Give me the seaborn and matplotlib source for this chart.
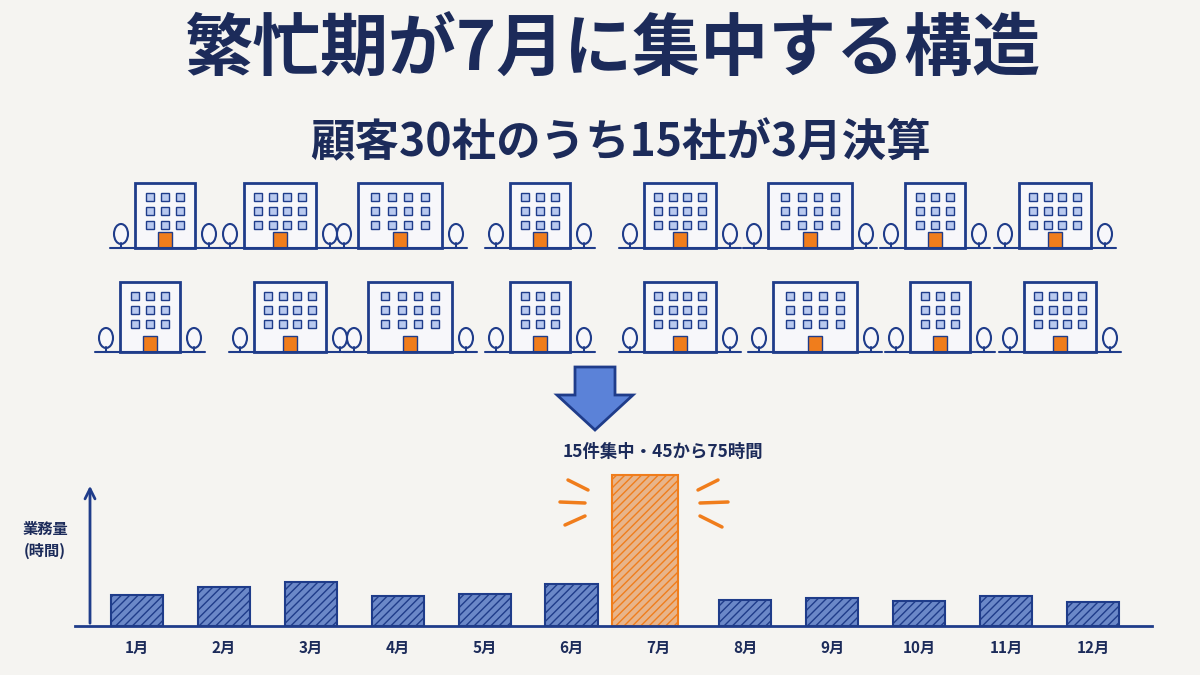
import matplotlib
matplotlib.use("Agg")
import matplotlib.pyplot as plt
import matplotlib.patches as mp
import seaborn as sns
import pandas as pd

months = ["1月","2月","3月","4月","5月","6月","7月","8月","9月","10月","11月","12月"]
hours = [15.5, 19.5, 22, 15, 16, 21, 75, 13, 14, 12.5, 15, 12]
title = "繁忙期が7月に集中する構造"
subtitle = "顧客30社のうち15社が3月決算"
note = "15件集中・45から75時間"
ylabel = "業務量\n(時間)"

sns.set_theme(style="white")
plt.rcParams['font.family'] = ['Noto Sans CJK JP', 'DejaVu Sans']
NAVY = "#1c2b5a"; BLUE = "#5b82d8"; EDGE = "#1f3c8a"; ORANGE = "#f07d1c"; BG = "#f5f4f1"

W, H = 1200, 675
fig = plt.figure(figsize=(12, 6.75), dpi=100, facecolor=BG)

def fx(x): return x / W
def fy(y): return 1 - y / H

fig.text(0.51, fy(50), title, ha="center", va="center", fontsize=49, fontweight="bold", color=NAVY)
fig.text(0.517, fy(143), subtitle, ha="center", va="center", fontsize=32, fontweight="bold", color=NAVY)

# building illustrations (decorative)
deco = fig.add_axes([0, 0, 1, 1]); deco.set_xlim(0, W); deco.set_ylim(H, 0); deco.axis("off")
deco.patch.set_alpha(0)
rows = [(248, [165, 280, 400, 540, 680, 810, 935, 1055], 65),
        (352, [150, 290, 410, 540, 680, 815, 940, 1060], 70)]
for base, xs, hgt in rows:
    for i, cx in enumerate(xs):
        bw = 60 + (i % 3) * 12
        deco.plot([cx - bw/2 - 25, cx + bw/2 + 25], [base, base], color=EDGE, lw=1.5)
        deco.add_patch(mp.Rectangle((cx - bw/2, base - hgt), bw, hgt, fc="#f7f7fa", ec=EDGE, lw=2))
        ncol = 4 if bw > 65 else 3
        sp = bw / (ncol + 1)
        for r in range(3):
            for c in range(ncol):
                deco.add_patch(mp.Rectangle((cx - bw/2 + sp*(c+1) - 4, base - hgt + 10 + r*14), 8, 8,
                                            fc="#b9c9ef", ec=EDGE, lw=1))
        deco.add_patch(mp.Rectangle((cx - 7, base - 16), 14, 16, fc=ORANGE, ec=EDGE, lw=1))
        for tx in (cx - bw/2 - 14, cx + bw/2 + 14):
            deco.add_patch(mp.Ellipse((tx, base - 14), 14, 20, fc="#f7f7fa", ec=EDGE, lw=1.5))
            deco.plot([tx, tx], [base - 5, base], color=EDGE, lw=1.5)
# down arrow
deco.add_patch(mp.Polygon([(575, 367), (615, 367), (615, 395), (633, 395), (595, 430), (557, 395), (575, 395)],
                          fc=BLUE, ec=EDGE, lw=2))
# burst lines
for (x1, y1, x2, y2) in [(568, 480, 588, 490), (560, 502, 585, 503), (565, 525, 585, 516),
                         (698, 490, 718, 480), (700, 503, 728, 502), (700, 516, 722, 527)]:
    deco.plot([x1, x2], [y1, y2], color=ORANGE, lw=2.5, solid_capstyle="round")

# bar chart
ax = fig.add_axes([fx(75), fy(626), fx(1152 - 75), (626 - 470) / H])
ax.set_facecolor((0, 0, 0, 0))
df = pd.DataFrame({"month": months, "hours": hours})
pal = ["#f8b27a" if m == "7月" else BLUE for m in months]
sns.barplot(data=df, x="month", y="hours", hue="month", palette=pal, legend=False, ax=ax, width=0.6)
for p, m in zip(ax.patches, months):
    p.set_hatch("////")
    p.set_edgecolor(ORANGE if m == "7月" else EDGE)
    p.set_linewidth(1.5)
    if m == "7月":
        c = p.get_x() + p.get_width() / 2
        p.set_width(0.76); p.set_x(c - 0.38 - 0.15)
ax.set_xlim(-0.713, 11.68)
ax.set_ylim(0, 75 * 156 / 151)
for s in ["top", "right", "left"]:
    ax.spines[s].set_visible(False)
ax.spines["bottom"].set_color(EDGE); ax.spines["bottom"].set_linewidth(2)
ax.set_yticks([]); ax.set_xlabel(""); ax.set_ylabel("")
ax.tick_params(axis="x", length=0, pad=10)
for t in ax.get_xticklabels():
    t.set_fontsize(11); t.set_fontweight("bold"); t.set_color(NAVY)
deco.annotate("", xy=(90, 483), xytext=(90, 626),
              arrowprops=dict(arrowstyle="->", color=EDGE, lw=2, mutation_scale=18))
fig.text(fx(45), fy(540), ylabel, ha="center", va="center", fontsize=11, fontweight="bold",
         color=NAVY, linespacing=1.4)
fig.text(fx(663), fy(452), note, ha="center", va="center", fontsize=12.5, fontweight="bold", color=NAVY)

fig.savefig("out.png", dpi=100, facecolor=BG)
